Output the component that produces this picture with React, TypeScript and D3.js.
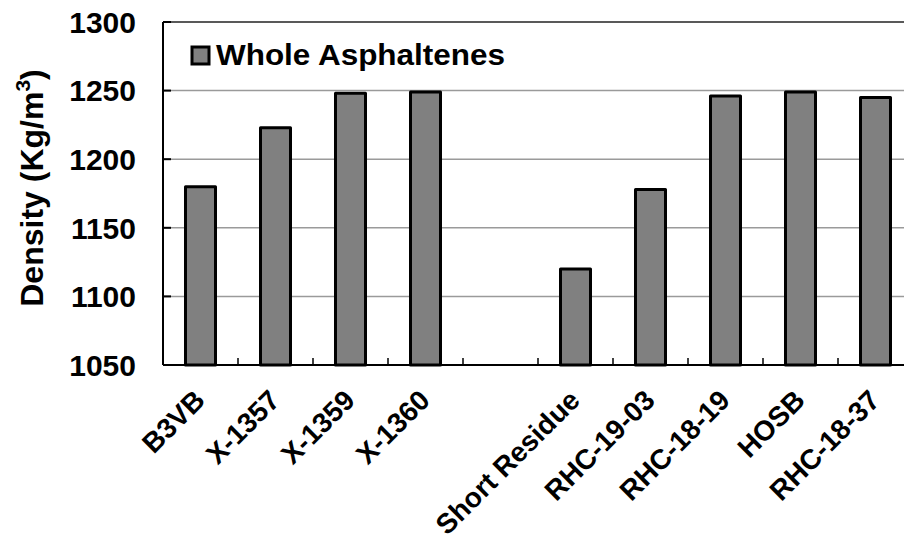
import React from "react";
import * as d3 from "d3";

const categories: string[] = [
  "B3VB",
  "X-1357",
  "X-1359",
  "X-1360",
  "",
  "Short Residue",
  "RHC-19-03",
  "RHC-18-19",
  "HOSB",
  "RHC-18-37",
];
const densities: (number | null)[] = [1180, 1223, 1248, 1249, null, 1120, 1178, 1246, 1249, 1245];
const yTicks: number[] = [1050, 1100, 1150, 1200, 1250, 1300];
const seriesName = "Whole Asphaltenes";

const W = 904;
const H = 539;
const margin = { left: 163, top: 22 };
const plotW = 750;
const plotH = 343;
const FONT = "'Liberation Sans', Arial, Helvetica, sans-serif";

export default function App() {
  const keys = categories.map((c, i) => `${i}`);
  const xBand = d3.scaleBand<string>().domain(keys).range([0, plotW]).paddingInner(0.6).paddingOuter(0.3);
  const xStep = d3.scaleBand<string>().domain(keys).range([0, plotW]).padding(0);
  const y = d3.scaleLinear().domain([1050, 1300]).range([plotH, 0]);

  return (
    <svg
      width={W}
      height={H}
      viewBox={`0 0 ${W} ${H}`}
      style={{ position: "absolute", left: 0, top: 0, background: "#fff" }}
      fontFamily={FONT}
    >
      <g transform={`translate(${margin.left},${margin.top})`}>
        {/* gridlines */}
        {yTicks
          .filter((t) => t !== 1050 && t !== 1300)
          .map((t) => (
            <line key={`g${t}`} x1={0} x2={plotW} y1={y(t)} y2={y(t)} stroke="#9a9a9a" strokeWidth={1.5} />
          ))}
        {/* top border */}
        <line x1={0} x2={plotW} y1={0} y2={0} stroke="#222" strokeWidth={1.5} />
        {/* y ticks inside */}
        {yTicks.map((t) => (
          <line key={`yt${t}`} x1={0} x2={8} y1={y(t)} y2={y(t)} stroke="#000" strokeWidth={2} />
        ))}
        {/* x ticks inside */}
        {keys.slice(1).map((k) => (
          <line
            key={`xt${k}`}
            x1={xStep(k)!}
            x2={xStep(k)!}
            y1={plotH}
            y2={plotH - 7}
            stroke="#000"
            strokeWidth={1.5}
          />
        ))}
        {/* bars */}
        {densities.map((v, i) =>
          v == null ? null : (
            <rect
              key={`b${i}`}
              x={xBand(keys[i])!}
              y={y(v)}
              width={xBand.bandwidth()}
              height={plotH - y(v)}
              fill="#808080"
              stroke="#000"
              strokeWidth={3}
              strokeLinejoin="round"
            />
          )
        )}
        {/* axes */}
        <line x1={0} x2={0} y1={0} y2={plotH} stroke="#000" strokeWidth={2} />
        <line x1={0} x2={plotW} y1={plotH} y2={plotH} stroke="#000" strokeWidth={2} />
        {/* y tick labels */}
        {yTicks.map((t) => (
          <text
            key={`yl${t}`}
            x={-27}
            y={y(t)}
            dy="0.36em"
            textAnchor="end"
            fontSize={30}
            fontWeight="bold"
            fill="#000"
          >
            {t}
          </text>
        ))}
        {/* x labels */}
        {categories.map((c, i) =>
          c === "" ? null : (
            <text
              key={`xl${i}`}
              transform={`translate(${xStep(keys[i])! + xStep.bandwidth() / 2 + 6},${plotH + 37}) rotate(-45)`}
              textAnchor="end"
              fontSize={28}
              fontWeight="bold"
              fill="#000"
            >
              {c}
            </text>
          )
        )}
        {/* legend */}
        <rect x={29} y={25} width={17} height={17} fill="#808080" stroke="#000" strokeWidth={3} />
        <text x={53} y={43} fontSize={30} fontWeight="bold" fill="#000" textLength={289} lengthAdjust="spacingAndGlyphs">
          {seriesName}
        </text>
      </g>
      {/* y axis title */}
      <text
        transform={`translate(43,${margin.top + 166}) rotate(-90)`}
        textAnchor="middle"
        fontSize={32}
        fontWeight="bold"
        fill="#000"
      >
        Density  (Kg/m
        <tspan dy={-13} fontSize={21}>3</tspan>
        <tspan dy={13}>)</tspan>
      </text>
    </svg>
  );
}
